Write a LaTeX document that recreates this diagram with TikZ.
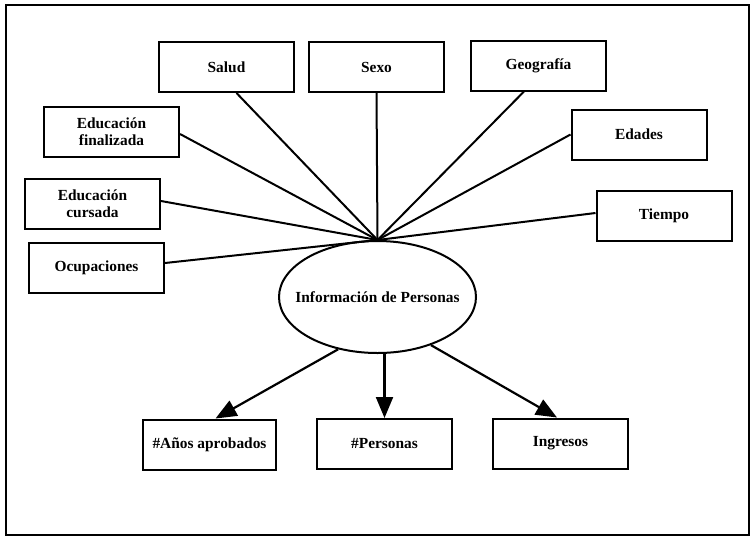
\documentclass[tikz,border=0pt]{standalone}
\usepackage{fontspec}
\setmainfont{Liberation Serif}
\usetikzlibrary{arrows.meta,calc,shapes.geometric}
\begin{document}
\begin{tikzpicture}[x=1pt,y=-1pt,
  every node/.style={font=\fontsize{15.4}{17}\selectfont\bfseries, align=center},
  box/.style={draw, line width=2pt, minimum width=135pt, minimum height=50pt, inner sep=0pt},
  link/.style={line width=2pt},
  arr/.style={line width=2.2pt, -{Triangle[length=21pt,width=17pt]}}]
\useasboundingbox (0,0) rectangle (754,539);
\draw[line width=2pt] (6,5) rectangle (749,535);
\node[box] (salud) at (226.5,67) {Salud};
\node[box] (sexo) at (376.5,67) {Sexo};
\node[box] (geo) at (538.5,65.5) {Geografía};
\node[box] (edades) at (639,134.5) {Edades};
\node[box] (tiempo) at (664,216) {Tiempo};
\node[box] (edufin) at (111.5,132) {Educación\\finalizada};
\node[box] (educur) at (92.5,204) {Educación\\cursada};
\node[box] (ocup) at (96.5,267.5) {Ocupaciones};
\node[box, minimum width=133pt] (anos) at (209.5,444.5) {\#Años aprobados};
\node[box] (pers) at (384.5,444) {\#Personas};
\node[box] (ingr) at (560.5,443.5) {Ingresos};
\node[draw, ellipse, line width=2pt, minimum width=197pt, minimum height=112pt, inner sep=0pt] (ell) at (377.5,297) {};
\node (elltext) at (ell.center) {Información de Personas};
\coordinate (hub) at (ell.north);
\draw[link] ($(salud.south)+(10,0)$) -- (hub);
\draw[link] (sexo.south) -- (hub);
\draw[link] ($(geo.south)+(-14.5,0)$) -- (hub);
\draw[link] (edades.west) -- (hub);
\draw[link] ($(tiempo.west)+(0,-3)$) -- (hub);
\draw[link] ($(edufin.east)+(0,2)$) -- (hub);
\draw[link] ($(educur.east)+(0,-3)$) -- (hub);
\draw[link] ($(ocup.east)+(0,-4.5)$) -- (hub);
\draw[arr] (ell.233.5) -- ($(anos.north)+(6,0)$);
\draw[arr] (ell.south -| pers.north) -- (pers.north);
\draw[arr] (ell.318) -- ($(ingr.north)+(-3.5,0)$);
\end{tikzpicture}
\end{document}
